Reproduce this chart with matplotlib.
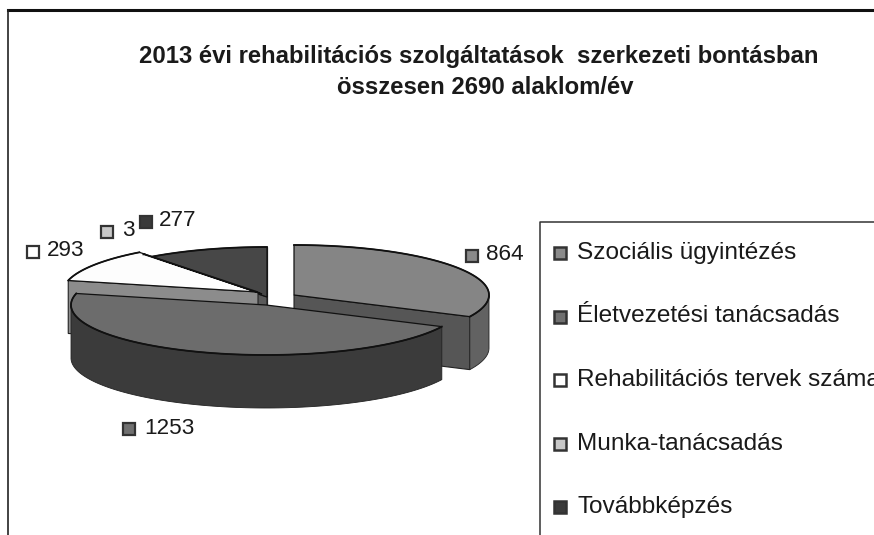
import numpy as np
import matplotlib
matplotlib.use("Agg")
import matplotlib.pyplot as plt

plt.rcParams['font.family'] = ['Liberation Sans', 'DejaVu Sans']

title_lines = ["2013 évi rehabilitációs szolgáltatások  szerkezeti bontásban",
               "összesen 2690 alaklom/év"]
categories = ["Szociális ügyintézés", "Életvezetési tanácsadás",
              "Rehabilitációs tervek száma", "Munka-tanácsadás", "Továbbképzés"]
values = [864, 1253, 293, 3, 277]

# styling per slice
top_colors = ['#858585', '#6c6c6c', '#fdfdfd', '#c4c4c4', '#474747']
rim_colors = ['#626262', '#3b3b3b', '#8c8c8c', '#8c8c8c', '#333333']
cut_colors = ['#565656', '#3b3b3b', '#8c8c8c', '#8c8c8c', '#5a5a5a']
marker_faces = ['#8a8a8a', '#707070', '#ffffff', '#c8c8c8', '#3a3a3a']
centers = [(294, 295), (266, 305), (258, 292), (262, 294), (267, 297)]
visible_cuts = [[-1], [], [0], [], [0, -1]]
RX, RY, DEPTH = 195, 50, 53
label_pos = [(472, 256), (129, 429), (33, 252), (107, 232), (146, 222)]
label_gap = [14, 15, 14, 15, 13]

fig = plt.figure(figsize=(8.74, 5.35), dpi=100, facecolor='white')
ax = fig.add_axes([0, 0, 1, 1])
ax.set_xlim(0, 874)
ax.set_ylim(535, 0)
ax.axis('off')

# frame
ax.plot([8, 874], [10, 10], color='#111111', lw=2.2)
ax.plot([8, 8], [10, 535], color='#222222', lw=1.2)
ax.plot([874, 540, 540], [222, 222, 535], color='#333333', lw=1.1)

for line, y, cx in zip(title_lines, [57, 88], [479, 485]):
    ax.text(cx, y, line, ha='center', va='center', fontsize=17.2,
            fontweight='bold', color='#1a1a1a')

# angles clockwise from 12 o'clock
cum = np.concatenate([[0], np.cumsum(values)]) / sum(values) * 2 * np.pi
i_order = {4: 1, 2: 2, 3: 3, 0: 4, 1: 5}


def pt(c, a):
    return c[0] + RX * np.sin(a), c[1] - RY * np.cos(a)


def draw_slice(i):
    c = centers[i]
    z = i_order[i]
    a = np.linspace(cum[i], cum[i + 1], 120)
    xs, ys = pt(c, a)
    # cut walls that face the viewer
    for e in visible_cuts[i]:
        ax.fill([c[0], xs[e], xs[e], c[0]],
                [c[1], ys[e], ys[e] + DEPTH, c[1] + DEPTH],
                fc=cut_colors[i], ec='#222222', lw=0.8, zorder=z)
    # outer wall, only the part that faces the viewer
    vis = np.cos(a) <= 0
    if vis.any():
        ax.fill(np.r_[xs[vis], xs[vis][::-1]],
                np.r_[ys[vis], ys[vis][::-1] + DEPTH],
                fc=rim_colors[i], ec='#222222', lw=0.6, zorder=z + 0.2)
    # top face
    ax.fill(np.r_[c[0], xs], np.r_[c[1], ys], fc=top_colors[i],
            ec='#111111', lw=0.9, zorder=z + 0.5)
    ax.plot(xs, ys, color='#111111', lw=1.3, zorder=z + 0.6)


for i in sorted(i_order, key=i_order.get):
    draw_slice(i)

# value labels
for (x, y), v, f, g in zip(label_pos, values, marker_faces, label_gap):
    ax.plot([x], [y], 's', ms=8.5, mfc=f, mec='#333333', mew=1.6, zorder=8)
    ax.text(x + g, y - 1, str(v), ha='left', va='center', fontsize=16.2,
            color='#1a1a1a', zorder=8)

# legend
for k, (name, f) in enumerate(zip(categories, marker_faces)):
    y = 253 + k * 63.5
    ax.plot([560], [y], 's', ms=8.5, mfc=f, mec='#333333', mew=1.8, zorder=8)
    ax.text(577, y, name, ha='left', va='center', fontsize=17.6,
            color='#1a1a1a', zorder=8, clip_on=False)

fig.savefig('out.png', dpi=100, facecolor='white')
